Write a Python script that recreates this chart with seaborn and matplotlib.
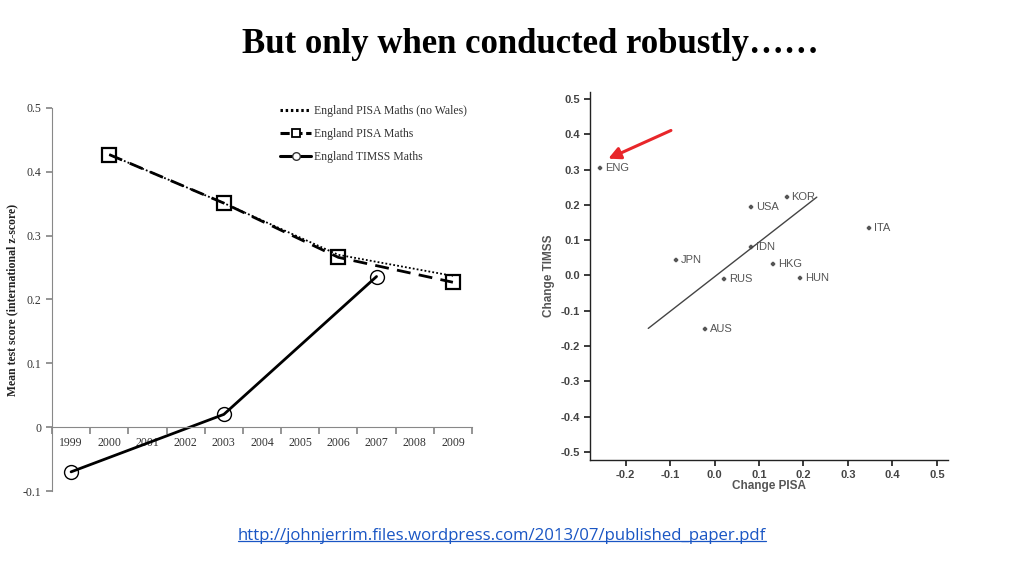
import matplotlib
matplotlib.use("Agg")
import matplotlib.pyplot as plt
import seaborn as sns
import numpy as np
from matplotlib.lines import Line2D

# ---------------- data ----------------
years_pisa = [2000, 2003, 2006, 2009]
pisa_no_wales = [0.427, 0.351, 0.270, 0.237]
pisa_maths = [0.427, 0.351, 0.266, 0.227]
years_timss = [1999, 2003, 2007]
timss_maths = [-0.070, 0.020, 0.236]
year_labels = list(range(1999, 2010))

countries = ["ENG", "KOR", "USA", "ITA", "IDN", "JPN", "HKG", "RUS", "HUN", "AUS"]
change_pisa = [-0.257, 0.162, 0.083, 0.348, 0.083, -0.086, 0.132, 0.021, 0.193, -0.021]
change_timss = [0.305, 0.222, 0.194, 0.134, 0.080, 0.044, 0.032, -0.011, -0.006, -0.151]
fit_x = [-0.149, 0.230]
fit_y = [-0.150, 0.222]
arrow_from = (-0.098, 0.411)
arrow_to = (-0.239, 0.331)

sns.set_theme(style="white")
plt.rcParams["font.family"] = ["Liberation Serif", "DejaVu Serif"]

fig = plt.figure(figsize=(10.24, 5.76), dpi=100)
fig.patch.set_facecolor("white")

fig.text(0.518, 0.922, "But only when conducted robustly\u2026\u2026", ha="center", va="center",
         fontsize=25, fontweight="bold", family=["Liberation Serif", "DejaVu Serif"], color="black")

# ---------------- left chart ----------------
ax1 = fig.add_axes([52 / 1024, (576 - 491) / 576, 420 / 1024, 383 / 576])
ax1.set_facecolor("white")
sns.lineplot(x=years_pisa, y=pisa_no_wales, ax=ax1, color="black", linestyle=(0, (1, 1.2)),
             linewidth=1.3, marker=None)
sns.lineplot(x=years_pisa, y=pisa_maths, ax=ax1, color="black", linestyle=(0, (5, 3)),
             linewidth=2.0, marker="s", markersize=10, markerfacecolor="none",
             markeredgecolor="black", markeredgewidth=1.6)
sns.lineplot(x=years_timss, y=timss_maths, ax=ax1, color="black", linestyle="-",
             linewidth=2.0, marker="o", markersize=10, markerfacecolor="none",
             markeredgecolor="black", markeredgewidth=1.0)

ax1.set_xlim(1998.5, 2009.5)
ax1.set_ylim(-0.1, 0.5)
for s in ["top", "right"]:
    ax1.spines[s].set_visible(False)
ax1.spines["bottom"].set_position(("data", 0))
ax1.spines["bottom"].set_color("#888888")
ax1.spines["left"].set_color("#888888")
ax1.spines["bottom"].set_linewidth(0.8)
ax1.spines["left"].set_linewidth(0.8)
ax1.set_xticks(np.arange(1998.5, 2010.0, 1.0))
ax1.set_xticklabels([])
ax1.set_xticks(year_labels, minor=True)
ax1.set_xticklabels([str(y) for y in year_labels], minor=True)
ax1.tick_params(axis="x", which="major", direction="out", length=5, color="#888888", bottom=True)
ax1.tick_params(axis="x", which="minor", length=0, labelsize=8.5, labelcolor="#333333", pad=7, bottom=True)
ax1.set_yticks([-0.1, 0, 0.1, 0.2, 0.3, 0.4, 0.5])
ax1.set_yticklabels(["-0.1", "0", "0.1", "0.2", "0.3", "0.4", "0.5"])
ax1.tick_params(axis="y", direction="out", length=4, color="#888888", left=True,
                labelsize=8.5, labelcolor="#333333")
ax1.set_xlabel("")
ax1.set_ylabel("Mean test score (international z-score)", fontsize=8.5, fontweight="bold",
               color="#222222", labelpad=3)
ax1.grid(False)
handles = [
    Line2D([], [], color="black", linestyle=(0, (0.8, 0.9)), linewidth=2.2),
    Line2D([], [], color="black", linestyle=(0, (3, 1.2)), linewidth=2.2, marker="s", markersize=6,
           markerfacecolor="white", markeredgecolor="black", markeredgewidth=1.3),
    Line2D([], [], color="black", linestyle="-", linewidth=2.2, marker="o", markersize=5.5,
           markerfacecolor="white", markeredgecolor="#333333", markeredgewidth=1.0),
]
labels = ["England PISA Maths (no Wales)", "England PISA Maths", "England TIMSS Maths"]
leg = ax1.legend(handles, labels, loc="upper right", bbox_to_anchor=(1.0, 1.02), frameon=False,
                 fontsize=8.5, handlelength=2.6, handletextpad=0.3, labelspacing=0.95,
                 borderaxespad=0)
for t in leg.get_texts():
    t.set_color("#333333")

# ---------------- right chart ----------------
ax2 = fig.add_axes([590 / 1024, (576 - 460) / 576, 358 / 1024, 368 / 576])
ax2.set_facecolor("white")
sns.scatterplot(x=change_pisa, y=change_timss, ax=ax2, marker="P", s=12, color="#555555",
                edgecolor="#555555", linewidth=0.3, legend=False)
for c, xv, yv in zip(countries, change_pisa, change_timss):
    ax2.text(xv + 0.011, yv, c, fontsize=8, color="#555555", va="center", ha="left",
             family=["Liberation Sans", "DejaVu Sans"])
sns.lineplot(x=fit_x, y=fit_y, ax=ax2, color="#444444", linewidth=1.0)
ax2.annotate("", xy=arrow_to, xytext=arrow_from,
             arrowprops=dict(arrowstyle="-|>,head_length=0.6,head_width=0.3", color="#e8262a",
                             lw=2.2, shrinkA=0, shrinkB=0))
ax2.set_xlim(-0.28, 0.525)
ax2.set_ylim(-0.523, 0.52)
for s in ["top", "right"]:
    ax2.spines[s].set_visible(False)
for s in ["left", "bottom"]:
    ax2.spines[s].set_color("#222222")
    ax2.spines[s].set_linewidth(1.0)
xt = [-0.2, -0.1, 0.0, 0.1, 0.2, 0.3, 0.4, 0.5]
yt = [-0.5, -0.4, -0.3, -0.2, -0.1, 0.0, 0.1, 0.2, 0.3, 0.4, 0.5]
ax2.set_xticks(xt)
ax2.set_xticklabels([f"{v:.1f}" for v in xt])
ax2.set_yticks(yt)
ax2.set_yticklabels([f"{v:.1f}" for v in yt])
ax2.tick_params(axis="both", direction="out", length=4, color="#222222", labelsize=8,
                labelcolor="#444444", bottom=True, left=True, pad=3)
for lab in ax2.get_xticklabels() + ax2.get_yticklabels():
    lab.set_fontweight("bold")
    lab.set_family(["Liberation Sans", "DejaVu Sans"])
ax2.set_xlabel("Change PISA", fontsize=8.5, fontweight="bold", color="#555555", labelpad=0,
               family=["Liberation Sans", "DejaVu Sans"])
ax2.set_ylabel("Change TIMSS", fontsize=8.5, fontweight="bold", color="#555555", labelpad=4,
               family=["Liberation Sans", "DejaVu Sans"])
ax2.grid(False)

# ---------------- URL ----------------
url = fig.text(0.490, 0.062, "http://johnjerrim.files.wordpress.com/2013/07/published_paper.pdf",
               ha="center", va="baseline", fontsize=12.1, color="#1a56c4",
               family=["Open Sans", "DejaVu Sans"])
fig.canvas.draw()
bb = url.get_window_extent(renderer=fig.canvas.get_renderer())
fig.add_artist(Line2D([bb.x0 / fig.bbox.width, bb.x1 / fig.bbox.width],
                      [(bb.y0 + 3) / fig.bbox.height] * 2, transform=fig.transFigure,
                      color="#1a56c4", linewidth=0.9))

fig.savefig("out.png", dpi=100, facecolor="white")
